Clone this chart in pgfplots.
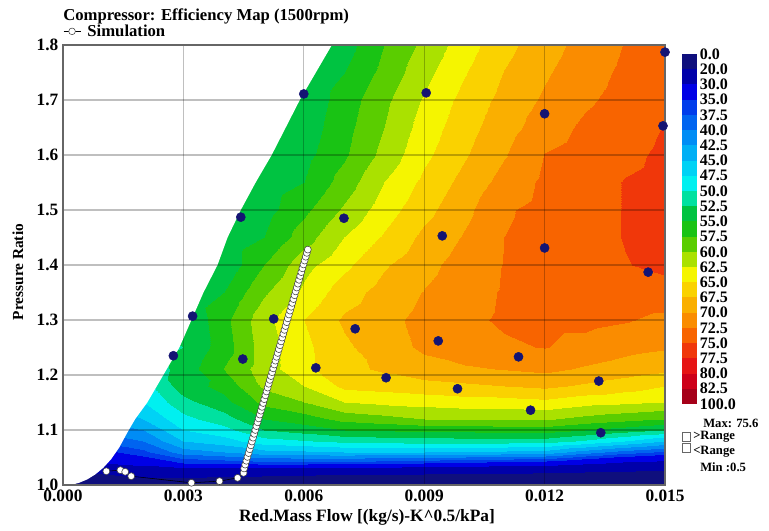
\documentclass[border=0pt]{standalone}
\usepackage{pgfplots}
\pgfplotsset{compat=1.18}
\usepackage{fontspec}
\setmainfont{Liberation Serif}
\definecolor{b1}{RGB}{15,15,125}
\definecolor{b2}{RGB}{0,0,170}
\definecolor{b3}{RGB}{0,0,230}
\definecolor{b4}{RGB}{0,60,235}
\definecolor{b5}{RGB}{0,100,240}
\definecolor{b6}{RGB}{0,140,245}
\definecolor{b7}{RGB}{0,175,245}
\definecolor{b8}{RGB}{0,210,245}
\definecolor{b9}{RGB}{0,240,240}
\definecolor{b10}{RGB}{0,225,160}
\definecolor{b11}{RGB}{0,195,65}
\definecolor{b12}{RGB}{25,195,20}
\definecolor{b13}{RGB}{90,205,0}
\definecolor{b14}{RGB}{170,225,0}
\definecolor{b15}{RGB}{245,245,0}
\definecolor{b16}{RGB}{250,210,0}
\definecolor{b17}{RGB}{250,175,0}
\definecolor{b18}{RGB}{250,140,0}
\definecolor{b19}{RGB}{248,100,0}
\definecolor{b20}{RGB}{240,55,10}
\definecolor{b21}{RGB}{230,20,20}
\definecolor{b22}{RGB}{205,0,25}
\definecolor{b23}{RGB}{165,0,25}
\definecolor{dotc}{RGB}{20,20,115}
\pgfplotsset{colormap={eff}{
 rgb255(0pt)=(15,15,125) rgb255(20pt)=(0,0,170) rgb255(30pt)=(0,0,230)
 rgb255(35pt)=(0,60,235) rgb255(37.5pt)=(0,100,240) rgb255(40pt)=(0,140,245)
 rgb255(42.5pt)=(0,175,245) rgb255(45pt)=(0,210,245) rgb255(47.5pt)=(0,240,240)
 rgb255(50pt)=(0,225,160) rgb255(52.5pt)=(0,195,65) rgb255(55pt)=(25,195,20)
 rgb255(57.5pt)=(90,205,0) rgb255(60pt)=(170,225,0) rgb255(62.5pt)=(245,245,0)
 rgb255(65pt)=(250,210,0) rgb255(67.5pt)=(250,175,0) rgb255(70pt)=(250,140,0)
 rgb255(72.5pt)=(248,100,0) rgb255(75pt)=(240,55,10) rgb255(77.5pt)=(230,20,20)
 rgb255(80pt)=(205,0,25) rgb255(82.5pt)=(165,0,25) rgb255(100pt)=(165,0,25)
}}
\newcommand\fs[1]{\fontsize{#1}{#1}\selectfont\bfseries}
\begin{document}
\begin{tikzpicture}
\useasboundingbox (-47.25pt,-34.5pt) rectangle (529.5pt,363.75pt);
\begin{axis}[
  name=main, at={(0pt,0pt)}, anchor=south west,
  scale only axis, width=451.5pt, height=330pt,
  xmin=0, xmax=0.015, ymin=1, ymax=1.8,
  xtick={0,0.003,0.006,0.009,0.012,0.015},
  ytick={1.0,1.1,1.2,1.3,1.4,1.5,1.6,1.7,1.8},
  scaled x ticks=false, scaled y ticks=false,
  xticklabel style={/pgf/number format/.cd, fixed, fixed zerofill, precision=3, assume math mode=true},
  yticklabel style={/pgf/number format/.cd, fixed, fixed zerofill, precision=1, assume math mode=true},
  tick label style={font=\fs{13}},
  major tick length=0pt,
  grid=major, grid style={black, opacity=0.25, line width=0.9pt},
  axis on top,
  axis line style={draw=black!60, line width=1.3pt},
  colormap name=eff, colormap access=piecewise constant,
  point meta min=0, point meta max=100,
  xlabel={Red.Mass Flow [(kg/s)-K\textasciicircum 0.5/kPa]},
  ylabel={Pressure Ratio},
  xlabel style={at={(axis description cs:0.505,-0.0727)}, anchor=center, font=\fs{13}},
  ylabel style={at={(axis description cs:-0.0748,0.484)}, anchor=center, font=\fs{11.5}},
  legend style={at={(axis description cs:0,1.031)}, anchor=west, draw=none, fill=none, inner sep=0pt, font=\fs{12.5},
    /tikz/every odd column/.append style={column sep=3pt}},
  legend image code/.code={\draw[black,line width=0.4pt] (0pt,0pt) -- (12.75pt,0pt); \draw[black!75,fill=white,line width=0.4pt] (6.4pt,0pt) circle (2.5pt);},
]
\addplot[surf, shader=interp, mesh/cols=16, point meta=explicit, forget plot] table[x=x, y=y, meta=z] {
x y z
0.000 1.00 12
0.001 1.00 12
0.002 1.00 12
0.003 1.00 12
0.004 1.00 12
0.005 1.00 12
0.006 1.00 12
0.007 1.00 12
0.008 1.00 12
0.009 1.00 12
0.010 1.00 12
0.011 1.00 12
0.012 1.00 12
0.013 1.00 12
0.014 1.00 12
0.015 1.00 12

0.000 1.02 15
0.001 1.02 20
0.002 1.02 24
0.003 1.02 23.3
0.004 1.02 22.6
0.005 1.02 21.7
0.006 1.02 21
0.007 1.02 20
0.008 1.02 20
0.009 1.02 20
0.010 1.02 19.5
0.011 1.02 19
0.012 1.02 18.5
0.013 1.02 17.5
0.014 1.02 17
0.015 1.02 16

0.000 1.04 25
0.001 1.04 30
0.002 1.04 32
0.003 1.04 35
0.004 1.04 35.6
0.005 1.04 36.5
0.006 1.04 36.5
0.007 1.04 36.5
0.008 1.04 35.8
0.009 1.04 35
0.010 1.04 34.4
0.011 1.04 33.8
0.012 1.04 33.1
0.013 1.04 31.1
0.014 1.04 29
0.015 1.04 28

0.000 1.06 30
0.001 1.06 34
0.002 1.06 36.8
0.003 1.06 41.3
0.004 1.06 42.5
0.005 1.06 44.1
0.006 1.06 44.5
0.007 1.06 45
0.008 1.06 45
0.009 1.06 45
0.010 1.06 44.7
0.011 1.06 44.4
0.012 1.06 44
0.013 1.06 41.2
0.014 1.06 38.8
0.015 1.06 37

0.000 1.08 35
0.001 1.08 38
0.002 1.08 40
0.003 1.08 45
0.004 1.08 46.4
0.005 1.08 49
0.006 1.08 49.8
0.007 1.08 50.7
0.008 1.08 51
0.009 1.08 51.3
0.010 1.08 51.3
0.011 1.08 51.3
0.012 1.08 51.3
0.013 1.08 49.6
0.014 1.08 47.5
0.015 1.08 45

0.000 1.10 38
0.001 1.10 41
0.002 1.10 42.5
0.003 1.10 47.5
0.004 1.10 49.1
0.005 1.10 52.5
0.006 1.10 53.6
0.007 1.10 55
0.008 1.10 55.3
0.009 1.10 55.7
0.010 1.10 55.8
0.011 1.10 56
0.012 1.10 56.3
0.013 1.10 55
0.014 1.10 53.8
0.015 1.10 52.5

0.000 1.12 40
0.001 1.12 43
0.002 1.12 45
0.003 1.12 49.2
0.004 1.12 51.4
0.005 1.12 55
0.006 1.12 56.3
0.007 1.12 58.3
0.008 1.12 59.1
0.009 1.12 60
0.010 1.12 60.1
0.011 1.12 60.2
0.012 1.12 60.3
0.013 1.12 59.2
0.014 1.12 58.3
0.015 1.12 57.5

0.000 1.15 42
0.001 1.15 45
0.002 1.15 47.5
0.003 1.15 51.7
0.004 1.15 54.2
0.005 1.15 58.3
0.006 1.15 60
0.007 1.15 62.5
0.008 1.15 63.1
0.009 1.15 63.5
0.010 1.15 63.9
0.011 1.15 64
0.012 1.15 64.4
0.013 1.15 63.4
0.014 1.15 63
0.015 1.15 62.5

0.000 1.18 44
0.001 1.18 46
0.002 1.18 49
0.003 1.18 53.8
0.004 1.18 55.8
0.005 1.18 60.5
0.006 1.18 62.5
0.007 1.18 65.6
0.008 1.18 66
0.009 1.18 66.5
0.010 1.18 67
0.011 1.18 67.5
0.012 1.18 68
0.013 1.18 67.1
0.014 1.18 66.1
0.015 1.18 65

0.000 1.21 46
0.001 1.21 48
0.002 1.21 50.5
0.003 1.21 53.5
0.004 1.21 57.6
0.005 1.21 61.3
0.006 1.21 64.3
0.007 1.21 66.8
0.008 1.21 67.9
0.009 1.21 69.2
0.010 1.21 69.7
0.011 1.21 70.1
0.012 1.21 70.6
0.013 1.21 69.7
0.014 1.21 68.9
0.015 1.21 68.1

0.000 1.25 48
0.001 1.25 50
0.002 1.25 51.5
0.003 1.25 52.5
0.004 1.25 56.3
0.005 1.25 61.3
0.006 1.25 64.4
0.007 1.25 67
0.008 1.25 69
0.009 1.25 70.4
0.010 1.25 71.3
0.011 1.25 72.2
0.012 1.25 72.6
0.013 1.25 71.7
0.014 1.25 70.8
0.015 1.25 70.3

0.000 1.30 53
0.001 1.30 53
0.002 1.30 53
0.003 1.30 52.5
0.004 1.30 56.7
0.005 1.30 61.7
0.006 1.30 65
0.007 1.30 67.9
0.008 1.30 69.3
0.009 1.30 70.7
0.010 1.30 72
0.011 1.30 72.8
0.012 1.30 73.2
0.013 1.30 73.2
0.014 1.30 72.7
0.015 1.30 71.9

0.000 1.35 53
0.001 1.35 53
0.002 1.35 53
0.003 1.35 53
0.004 1.35 55
0.005 1.35 59.6
0.006 1.35 63.1
0.007 1.35 66.3
0.008 1.35 68.5
0.009 1.35 70.1
0.010 1.35 71.6
0.011 1.35 72.7
0.012 1.35 73.2
0.013 1.35 73.8
0.014 1.35 74.1
0.015 1.35 74.2

0.000 1.40 53
0.001 1.40 53
0.002 1.40 53
0.003 1.40 52.5
0.004 1.40 53.1
0.005 1.40 57.5
0.006 1.40 61.6
0.007 1.40 64.4
0.008 1.40 67.2
0.009 1.40 69.2
0.010 1.40 71.1
0.011 1.40 72.6
0.012 1.40 73.4
0.013 1.40 74.1
0.014 1.40 74.9
0.015 1.40 75.5

0.000 1.45 53
0.001 1.45 53
0.002 1.45 53
0.003 1.45 53
0.004 1.45 53
0.005 1.45 55
0.006 1.45 58.8
0.007 1.45 62.5
0.008 1.45 65.3
0.009 1.45 68.1
0.010 1.45 70.2
0.011 1.45 72.5
0.012 1.45 73.4
0.013 1.45 74.2
0.014 1.45 75.1
0.015 1.45 75.6

0.000 1.50 53
0.001 1.50 53
0.002 1.50 53
0.003 1.50 53
0.004 1.50 53
0.005 1.50 54
0.006 1.50 56.9
0.007 1.50 60.4
0.008 1.50 63.8
0.009 1.50 66.7
0.010 1.50 69.3
0.011 1.50 72.2
0.012 1.50 73.3
0.013 1.50 74.2
0.014 1.50 75.1
0.015 1.50 75.6

0.000 1.55 53
0.001 1.55 53
0.002 1.55 53
0.003 1.55 53
0.004 1.55 53
0.005 1.55 53.5
0.006 1.55 55
0.007 1.55 58.6
0.008 1.55 62.5
0.009 1.55 65.6
0.010 1.55 68.3
0.011 1.55 70.9
0.012 1.55 73
0.013 1.55 74.1
0.014 1.55 75.1
0.015 1.55 75.6

0.000 1.60 53
0.001 1.60 53
0.002 1.60 53
0.003 1.60 53
0.004 1.60 53
0.005 1.60 53
0.006 1.60 54.2
0.007 1.60 57.1
0.008 1.60 60.8
0.009 1.60 64.4
0.010 1.60 67.2
0.011 1.60 69.8
0.012 1.60 72.6
0.013 1.60 73.6
0.014 1.60 74.5
0.015 1.60 75.4

0.000 1.65 53
0.001 1.65 53
0.002 1.65 53
0.003 1.65 53
0.004 1.65 53
0.005 1.65 53
0.006 1.65 53.6
0.007 1.65 56.6
0.008 1.65 60
0.009 1.65 63.6
0.010 1.65 66.5
0.011 1.65 69
0.012 1.65 71.3
0.013 1.65 73
0.014 1.65 74.1
0.015 1.65 75.1

0.000 1.70 53
0.001 1.70 53
0.002 1.70 53
0.003 1.70 53
0.004 1.70 53
0.005 1.70 53
0.006 1.70 53.2
0.007 1.70 56.1
0.008 1.70 59.4
0.009 1.70 62.8
0.010 1.70 65.8
0.011 1.70 68.3
0.012 1.70 70.4
0.013 1.70 72.1
0.014 1.70 73.4
0.015 1.70 74.5

0.000 1.75 53
0.001 1.75 53
0.002 1.75 53
0.003 1.75 53
0.004 1.75 53
0.005 1.75 53
0.006 1.75 53
0.007 1.75 55
0.008 1.75 58.3
0.009 1.75 61.7
0.010 1.75 64.8
0.011 1.75 67.6
0.012 1.75 69.7
0.013 1.75 71.5
0.014 1.75 73
0.015 1.75 74

0.000 1.80 53
0.001 1.80 53
0.002 1.80 53
0.003 1.80 53
0.004 1.80 53
0.005 1.80 53
0.006 1.80 53
0.007 1.80 53.8
0.008 1.80 57.5
0.009 1.80 60.6
0.010 1.80 63.8
0.011 1.80 66.7
0.012 1.80 69
0.013 1.80 70.9
0.014 1.80 72.6
0.015 1.80 73.8
};
% white region left of the surge line
\addplot[fill=white, draw=none, forget plot] coordinates {
(-0.001,1.85) (-0.001,0.99) (0.0002,0.99) (0.0002,1.0) (0.0004,1.004) (0.0006,1.010)
(0.0008,1.019) (0.0010,1.031) (0.0012,1.047) (0.0014,1.068) (0.0016,1.095)
(0.0018,1.12) (0.0021,1.15) (0.0025,1.20) (0.0029,1.25) (0.0032,1.30)
(0.0035,1.35) (0.00385,1.40) (0.0041,1.45) (0.00443,1.50) (0.0048,1.55)
(0.0052,1.60) (0.00555,1.65) (0.0059,1.70) (0.0063,1.75) (0.0067,1.80) (0.0072,1.85)
} --cycle;
% measured operating points
\addplot[only marks, mark=*, mark size=3.4pt, mark options={fill=dotc, draw=dotc}, forget plot] coordinates {
(0.0060,1.711) (0.00905,1.713) (0.0150,1.787) (0.0120,1.675) (0.01495,1.653)
(0.00443,1.487) (0.0070,1.485) (0.00945,1.453) (0.0120,1.431) (0.01458,1.387)
(0.00323,1.307) (0.00525,1.302) (0.00728,1.284) (0.00935,1.262) (0.01135,1.233)
(0.00275,1.235) (0.00448,1.229) (0.0063,1.213) (0.00805,1.195) (0.00983,1.175)
(0.01335,1.189) (0.01165,1.136) (0.0134,1.095)
};
% simulation
\addplot[black, line width=0.4pt, mark=*, mark size=2.6pt, mark options={fill=white, draw=black!75, line width=0.4pt}] coordinates {
(0.00108,1.025) (0.00143,1.027) (0.00155,1.024) (0.0017,1.016) (0.0032,1.004)
(0.0039,1.007) (0.00435,1.013) (0.0045,1.022)
(0.004512,1.030) (0.004540,1.037) (0.004568,1.044) (0.004596,1.051) (0.004624,1.058)
(0.004652,1.065) (0.004680,1.072) (0.004707,1.079) (0.004735,1.086) (0.004763,1.093)
(0.004791,1.100) (0.004819,1.107) (0.004847,1.114) (0.004875,1.121) (0.004903,1.128)
(0.004931,1.135) (0.004959,1.142) (0.004987,1.149) (0.005015,1.156) (0.005043,1.163)
(0.005071,1.170) (0.005099,1.177) (0.005126,1.184) (0.005154,1.191) (0.005182,1.198)
(0.005210,1.205) (0.005238,1.212) (0.005266,1.219) (0.005294,1.226) (0.005322,1.233)
(0.005350,1.240) (0.005378,1.247) (0.005406,1.254) (0.005434,1.261) (0.005462,1.268)
(0.005490,1.275) (0.005518,1.282) (0.005545,1.289) (0.005573,1.296) (0.005601,1.303)
(0.005629,1.310) (0.005657,1.317) (0.005685,1.324) (0.005713,1.331) (0.005741,1.338)
(0.005769,1.345) (0.005797,1.352) (0.005825,1.359) (0.005853,1.366) (0.005881,1.373)
(0.005909,1.380) (0.005937,1.387) (0.005964,1.394) (0.005992,1.401) (0.006020,1.408)
(0.006048,1.415) (0.006076,1.422) (0.006100,1.428)
};
\addlegendentry{Simulation}
\end{axis}
\node[anchor=base west, font=\fs{12.5}, inner sep=0pt] at (0pt,348.5pt) {Compressor: Efficiency Map (1500rpm)};
% colour scale
\begin{axis}[
  at={(464.25pt,60.75pt)}, anchor=south west,
  scale only axis, width=11.25pt, height=262.5pt,
  xmin=0, xmax=1, ymin=0, ymax=23, y dir=reverse,
  xtick=\empty, ytick={0,1,...,23},
  yticklabels={0.0,20.0,30.0,35.0,37.5,40.0,42.5,45.0,47.5,50.0,52.5,55.0,57.5,60.0,62.5,65.0,67.5,70.0,72.5,75.0,77.5,80.0,82.5,100.0},
  yticklabel pos=right, major tick length=0pt,
  axis line style={draw=none}, tick style={draw=none},
  yticklabel style={font=\fs{12}, anchor=west, inner xsep=2pt, inner ysep=0pt},
  clip=false,
]
\addplot[fill=b1, draw=none] coordinates {(0,0) (1,0) (1,1) (0,1)} --cycle;
\addplot[fill=b2, draw=none] coordinates {(0,1) (1,1) (1,2) (0,2)} --cycle;
\addplot[fill=b3, draw=none] coordinates {(0,2) (1,2) (1,3) (0,3)} --cycle;
\addplot[fill=b4, draw=none] coordinates {(0,3) (1,3) (1,4) (0,4)} --cycle;
\addplot[fill=b5, draw=none] coordinates {(0,4) (1,4) (1,5) (0,5)} --cycle;
\addplot[fill=b6, draw=none] coordinates {(0,5) (1,5) (1,6) (0,6)} --cycle;
\addplot[fill=b7, draw=none] coordinates {(0,6) (1,6) (1,7) (0,7)} --cycle;
\addplot[fill=b8, draw=none] coordinates {(0,7) (1,7) (1,8) (0,8)} --cycle;
\addplot[fill=b9, draw=none] coordinates {(0,8) (1,8) (1,9) (0,9)} --cycle;
\addplot[fill=b10, draw=none] coordinates {(0,9) (1,9) (1,10) (0,10)} --cycle;
\addplot[fill=b11, draw=none] coordinates {(0,10) (1,10) (1,11) (0,11)} --cycle;
\addplot[fill=b12, draw=none] coordinates {(0,11) (1,11) (1,12) (0,12)} --cycle;
\addplot[fill=b13, draw=none] coordinates {(0,12) (1,12) (1,13) (0,13)} --cycle;
\addplot[fill=b14, draw=none] coordinates {(0,13) (1,13) (1,14) (0,14)} --cycle;
\addplot[fill=b15, draw=none] coordinates {(0,14) (1,14) (1,15) (0,15)} --cycle;
\addplot[fill=b16, draw=none] coordinates {(0,15) (1,15) (1,16) (0,16)} --cycle;
\addplot[fill=b17, draw=none] coordinates {(0,16) (1,16) (1,17) (0,17)} --cycle;
\addplot[fill=b18, draw=none] coordinates {(0,17) (1,17) (1,18) (0,18)} --cycle;
\addplot[fill=b19, draw=none] coordinates {(0,18) (1,18) (1,19) (0,19)} --cycle;
\addplot[fill=b20, draw=none] coordinates {(0,19) (1,19) (1,20) (0,20)} --cycle;
\addplot[fill=b21, draw=none] coordinates {(0,20) (1,20) (1,21) (0,21)} --cycle;
\addplot[fill=b22, draw=none] coordinates {(0,21) (1,21) (1,22) (0,22)} --cycle;
\addplot[fill=b23, draw=none] coordinates {(0,22) (1,22) (1,23) (0,23)} --cycle;
\end{axis}
\node[anchor=west, font=\fs{9.5}, inner sep=0pt] at (480pt,46.5pt) {Max: 75.6};
\draw[black!60, line width=0.5pt] (464.25pt,33pt) rectangle (470.25pt,39.75pt);
\node[anchor=west, font=\fs{9.5}, inner sep=0pt] at (472.5pt,36pt) {>Range};
\draw[black!60, line width=0.5pt] (464.25pt,24.75pt) rectangle (470.25pt,31.5pt);
\node[anchor=west, font=\fs{9.5}, inner sep=0pt] at (472.5pt,25pt) {<Range};
\node[anchor=west, font=\fs{9.5}, inner sep=0pt] at (477.75pt,13.5pt) {Min :0.5};
\end{tikzpicture}
\end{document}
